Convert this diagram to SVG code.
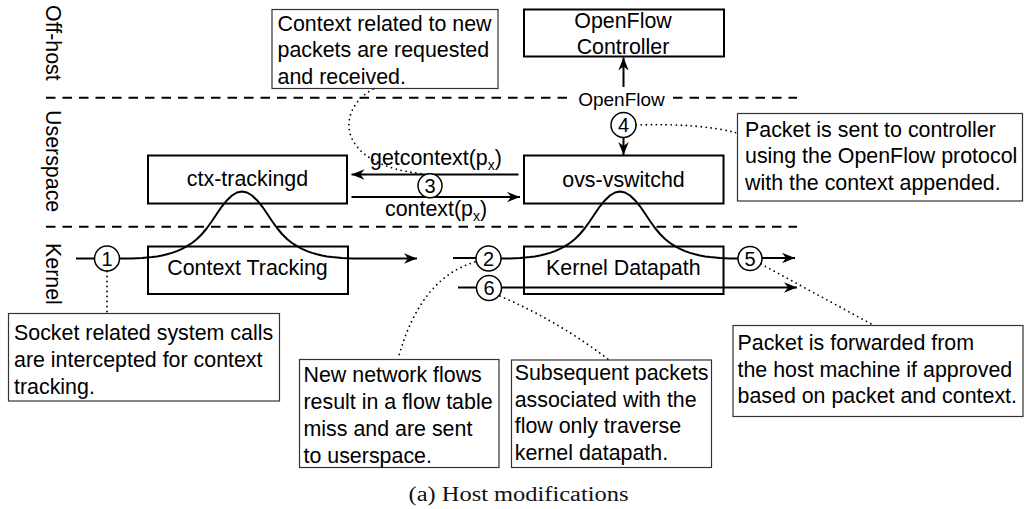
<svg xmlns="http://www.w3.org/2000/svg" width="1024" height="509" viewBox="0 0 1024 509">
<style>
.box{fill:#fff;stroke:#000;stroke-width:2}
.note{fill:#fff;stroke:#333;stroke-width:1.2}
.t{font-family:"Liberation Sans",Arial,Helvetica,sans-serif;font-size:21.4px;fill:#000}
.c{text-anchor:middle}
.ln{fill:none;stroke:#000;stroke-width:2;stroke-linejoin:round}
.dot{fill:none;stroke:#000;stroke-width:1.8;stroke-dasharray:0 5;stroke-linecap:round}
.dash{fill:none;stroke:#000;stroke-width:2;stroke-dasharray:9.5 7}
.circ{fill:#fff;stroke:#000;stroke-width:1.5}
.num{font-family:"Liberation Sans",Arial,Helvetica,sans-serif;font-size:20px;text-anchor:middle;fill:#000}
</style>
<defs>
<marker id="ah" markerWidth="16" markerHeight="12" refX="14" refY="6" orient="auto" markerUnits="userSpaceOnUse" viewBox="0 0 16 12">
<path d="M14,6 L1,0.8 L5,6 L1,11.2 Z" fill="#000"/>
</marker>
</defs>
<rect width="1024" height="509" fill="#fff"/>

<g id="layers">
<line class="dash" x1="46" y1="97.7" x2="797" y2="97.7"/>
<line class="dash" x1="46" y1="226.7" x2="797" y2="226.7"/>
<text class="t" transform="translate(45.5,5) rotate(90)">Off-host</text>
<text class="t" transform="translate(45.5,110) rotate(90)">Userspace</text>
<text class="t" transform="translate(45.5,243) rotate(90)">Kernel</text>
</g>

<g id="controller">
<rect class="box" x="524" y="9.5" width="200" height="47"/>
<text class="t c" x="623" y="28.3">OpenFlow</text>
<text class="t c" x="623" y="54.3">Controller</text>
</g>
<g id="ctx-trackingd">
<rect class="box" x="148" y="155.5" width="199" height="48"/>
<text class="t c" x="247.5" y="185.5">ctx-trackingd</text>
</g>
<g id="ovs-vswitchd">
<rect class="box" x="524" y="155.5" width="199.5" height="48"/>
<text class="t c" x="623.5" y="186.5">ovs-vswitchd</text>
</g>
<g id="context-tracking">
<rect class="box" x="148" y="246.5" width="200" height="47.5"/>
<text class="t c" x="247.5" y="275">Context Tracking</text>
</g>
<g id="kernel-datapath">
<rect class="box" x="524" y="246.5" width="199.5" height="47.5"/>
<text class="t c" x="623.3" y="275">Kernel Datapath</text>
</g>

<g id="connectors">
<path class="ln" d="M76,258.5 L94.5,258.5"/>
<path class="ln" marker-end="url(#ah)" d="M119.5,258.5 L122,258.5 L132,258.4 L142,258 L147,257.6 L152,257.1 L157,256.4 L162,255.5 L167,254.3 L172,252.9 L177,251.1 L182,248.9 L187,246.2 L192,243 L197,239 L202,234 L207,228 L212,221 L217,213.5 L222,206.3 L227,200.2 L232,195.5 L237,192.5 L242,191.5 L247,192.5 L252,195.5 L257,200.2 L262,206.3 L267,213.5 L272,221 L277,228 L282,234 L287,239 L292,243 L297,246.2 L302,248.9 L307,251.1 L312,252.9 L317,254.3 L322,255.5 L327,256.4 L332,257.1 L337,257.6 L342,258 L352,258.4 L362,258.5 L417,258.5"/>
<path class="ln" d="M453,258 L476,258"/>
<path class="ln" d="M500.5,258.5 L510,258.4 L520,258 L525,257.6 L530,257.1 L535,256.4 L540,255.5 L545,254.3 L550,252.9 L555,251.1 L560,248.9 L565,246.2 L570,243 L575,239 L580,234 L585,228 L590,221 L595,213.5 L600,206.3 L605,200.2 L610,195.5 L615,192.5 L620,191.5 L625,192.5 L630,195.5 L635,200.2 L640,206.3 L645,213.5 L650,221 L655,228 L660,234 L665,239 L670,243 L675,246.2 L680,248.9 L685,251.1 L690,252.9 L695,254.3 L700,255.5 L705,256.4 L710,257.1 L715,257.6 L720,258 L730,258.4 L738,258.5"/>
<path class="ln" marker-end="url(#ah)" d="M762,258 L795,258"/>
<path class="ln" d="M458,287.5 L476.5,287.5"/>
<path class="ln" marker-end="url(#ah)" d="M501.5,287.5 L797,287.5"/>
<path class="ln" marker-end="url(#ah)" d="M518.5,174.5 L351.5,174.5"/>
<path class="ln" marker-end="url(#ah)" d="M351.5,197 L520,197"/>
<path class="ln" marker-end="url(#ah)" d="M623.5,87 L623.5,57.5"/>
<path class="ln" marker-end="url(#ah)" d="M623.5,137.5 L623.5,155"/>
<rect x="574" y="88" width="94" height="20" fill="#fff"/>
<text class="t c" x="621.5" y="105.5" style="font-size:19px">OpenFlow</text>
<text class="t" x="370" y="165">getcontext(p<tspan font-size="14" dy="5">x</tspan><tspan dy="-5">)</tspan></text>
<text class="t" x="385" y="216">context(p<tspan font-size="14" dy="5">x</tspan><tspan dy="-5">)</tspan></text>
<path class="dot" d="M107,271.5 L107,313"/>
<path class="dot" d="M373,89 C335,110 335,165 424,174"/>
<path class="dot" d="M475,262 Q420,278 398,359"/>
<path class="dot" d="M500,296 Q560,322 609,360"/>
<path class="dot" d="M761,264 L875,326"/>
<path class="dot" d="M636,125 Q700,123 737,133"/>
</g>

<g id="markers-numbered">
<g id="n1"><circle class="circ" cx="107" cy="258.5" r="12.5"/><text class="num" x="107" y="265.5">1</text></g>
<g id="n2"><circle class="circ" cx="488.5" cy="258.5" r="12.5"/><text class="num" x="488.5" y="265.5">2</text></g>
<g id="n3"><circle class="circ" cx="430" cy="185.8" r="12"/><text class="num" x="430" y="192.8">3</text></g>
<g id="n4"><circle class="circ" cx="623.5" cy="125" r="12.5"/><text class="num" x="623.5" y="132">4</text></g>
<g id="n5"><circle class="circ" cx="750" cy="258.5" r="12"/><text class="num" x="750" y="265.5">5</text></g>
<g id="n6"><circle class="circ" cx="489" cy="288" r="12.5"/><text class="num" x="489" y="295">6</text></g>
</g>

<g id="note-context">
<rect class="note" x="272" y="9.5" width="226" height="79"/>
<text class="t" x="277.5" y="30.5">Context related to new</text>
<text class="t" x="277.5" y="57">packets are requested</text>
<text class="t" x="277.5" y="83.5">and received.</text>
</g>
<g id="note-controller">
<rect class="note" x="737.5" y="113.5" width="285" height="87.5"/>
<text class="t" x="745" y="136.5">Packet is sent to controller</text>
<text class="t" x="745" y="163">using the OpenFlow protocol</text>
<text class="t" x="745" y="189.5">with the context appended.</text>
</g>
<g id="note-socket">
<rect class="note" x="8.5" y="313.5" width="271" height="87.5"/>
<text class="t" x="14" y="340">Socket related system calls</text>
<text class="t" x="14" y="367">are intercepted for context</text>
<text class="t" x="14" y="393.5">tracking.</text>
</g>
<g id="note-newflows">
<rect class="note" x="299.5" y="359.5" width="199.5" height="108"/>
<text class="t" x="303.5" y="381.5">New network flows</text>
<text class="t" x="303.5" y="408.5">result in a flow table</text>
<text class="t" x="303.5" y="435.5">miss and are sent</text>
<text class="t" x="303.5" y="462.5">to userspace.</text>
</g>
<g id="note-subsequent">
<rect class="note" x="511.5" y="360" width="200" height="107.5"/>
<text class="t" x="514.7" y="379.5">Subsequent packets</text>
<text class="t" x="514.7" y="406.5">associated with the</text>
<text class="t" x="514.7" y="433">flow only traverse</text>
<text class="t" x="514.7" y="459.5">kernel datapath.</text>
</g>
<g id="note-forward">
<rect class="note" x="733" y="325.5" width="290" height="91"/>
<text class="t" x="737.5" y="350">Packet is forwarded from</text>
<text class="t" x="737.5" y="376.5">the host machine if approved</text>
<text class="t" x="737.5" y="403">based on packet and context.</text>
</g>

<text x="518.5" y="501" font-family="'Liberation Serif','Times New Roman',serif" font-size="20" text-anchor="middle" textLength="220" lengthAdjust="spacingAndGlyphs" fill="#111">(a) Host modifications</text>
</svg>
